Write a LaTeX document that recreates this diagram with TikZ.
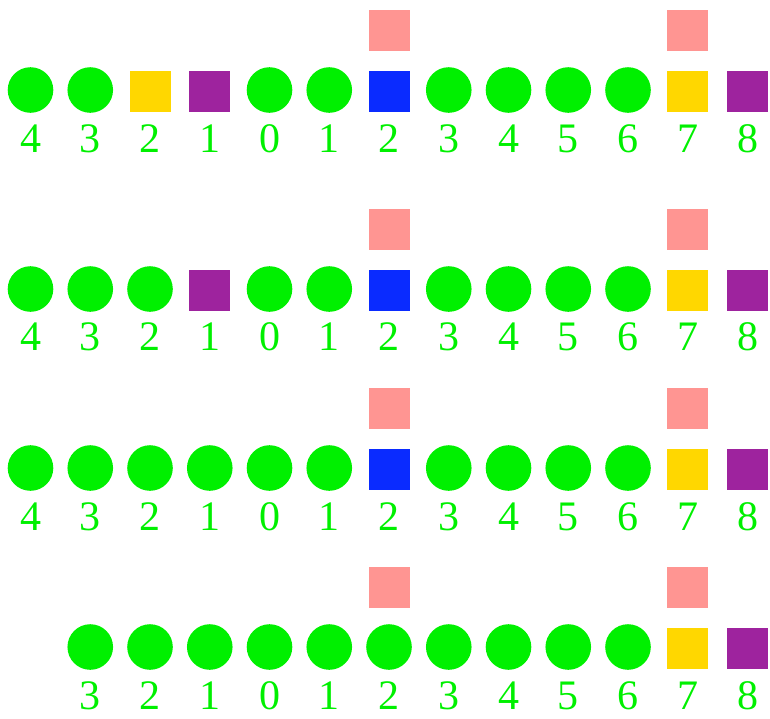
\documentclass[tikz,border=0pt]{standalone}
\usepackage{fontspec}
\setmainfont{Liberation Serif}
\newfontfamily\cellfont{LiberationSerif-Regular.ttf}
\usepackage{xcolor}
\definecolor{cDot}{HTML}{00F000}
\definecolor{cGold}{HTML}{FFD700}
\definecolor{cPlum}{HTML}{9E239E}
\definecolor{cBlue}{HTML}{0A2BFF}
\definecolor{cPink}{HTML}{FF9592}
\usetikzlibrary{positioning}
\tikzset{
  cell-dot/.style={circle,fill=cDot,minimum size=22.8pt,inner sep=0pt,yshift=0.75pt},
  cell-box/.style={rectangle,minimum size=20.5pt,inner sep=0pt},
  cell-gold/.style={cell-box,fill=cGold},
  cell-plum/.style={cell-box,fill=cPlum},
  cell-blue/.style={cell-box,fill=cBlue},
  cell-pink/.style={cell-box,fill=cPink},
  cell-num/.style={text=cDot,font=\cellfont\fontsize{21}{21}\selectfont,
    anchor=base,inner sep=0pt},
}

\begin{document}
\begin{tikzpicture}[x=0.5pt,y=-0.5pt,node distance=9.5pt]
  \useasboundingbox (0,0) rectangle (770,718);
  % row 1
  \foreach \k/\s/\n in {0/cell-dot/4,1/cell-dot/3,2/cell-gold/2,3/cell-plum/1,
      4/cell-dot/0,5/cell-dot/1,6/cell-blue/2,7/cell-dot/3,8/cell-dot/4,
      9/cell-dot/5,10/cell-dot/6,11/cell-gold/7,12/cell-plum/8} {
    \node[\s] (a\k) at (30.5+59.75*\k,91.5) {};
    \node[cell-num] (a\k n) at (30.5+59.75*\k,152) {\n};
  }
  \node[cell-pink,above=of a6] (a6p) {};
  \node[cell-pink,above=of a11] (a11p) {};
  % row 2
  \foreach \k/\s/\n in {0/cell-dot/4,1/cell-dot/3,2/cell-dot/2,3/cell-plum/1,
      4/cell-dot/0,5/cell-dot/1,6/cell-blue/2,7/cell-dot/3,8/cell-dot/4,
      9/cell-dot/5,10/cell-dot/6,11/cell-gold/7,12/cell-plum/8} {
    \node[\s] (b\k) at (30.5+59.75*\k,290.5) {};
    \node[cell-num] (b\k n) at (30.5+59.75*\k,350.5) {\n};
  }
  \node[cell-pink,above=of b6] (b6p) {};
  \node[cell-pink,above=of b11] (b11p) {};
  % row 3
  \foreach \k/\s/\n in {0/cell-dot/4,1/cell-dot/3,2/cell-dot/2,3/cell-dot/1,
      4/cell-dot/0,5/cell-dot/1,6/cell-blue/2,7/cell-dot/3,8/cell-dot/4,
      9/cell-dot/5,10/cell-dot/6,11/cell-gold/7,12/cell-plum/8} {
    \node[\s] (c\k) at (30.5+59.75*\k,469.5) {};
    \node[cell-num] (c\k n) at (30.5+59.75*\k,530) {\n};
  }
  \node[cell-pink,above=of c6] (c6p) {};
  \node[cell-pink,above=of c11] (c11p) {};
  % row 4
  \foreach \k/\s/\n in {1/cell-dot/3,2/cell-dot/2,3/cell-dot/1,
      4/cell-dot/0,5/cell-dot/1,6/cell-dot/2,7/cell-dot/3,8/cell-dot/4,
      9/cell-dot/5,10/cell-dot/6,11/cell-gold/7,12/cell-plum/8} {
    \node[\s] (d\k) at (30.5+59.75*\k,648.5) {};
    \node[cell-num] (d\k n) at (30.5+59.75*\k,709) {\n};
  }
  \node[cell-pink,above=of d11] (d11p) {};
  \node[cell-pink] (d6p) at (d11p -| d6) {};
\end{tikzpicture}
\end{document}
